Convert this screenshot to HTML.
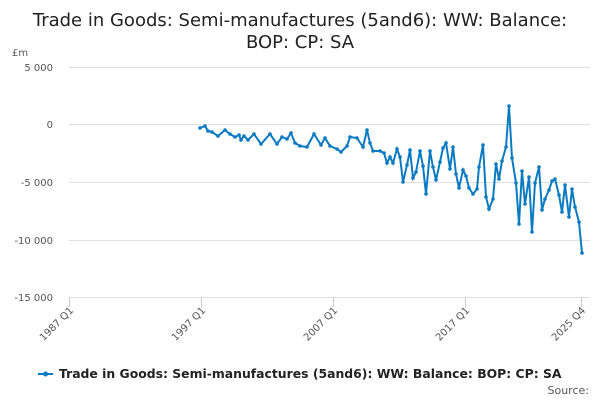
<!DOCTYPE html><html><head><style>body{margin:0;background:#fff}svg{font-family:"DejaVu Sans",sans-serif}</style></head><body>
<svg width="600" height="400" xmlns="http://www.w3.org/2000/svg">
<text x="300" y="26" font-size="18" text-anchor="middle" fill="#222">Trade in Goods: Semi-manufactures (5and6): WW: Balance:</text>
<text x="300" y="48" font-size="18" text-anchor="middle" fill="#222">BOP: CP: SA</text>
<text x="12" y="56" font-size="10" fill="#555">£m</text>
<g stroke="#e0e0e0" stroke-width="1">
<line x1="69" x2="590" y1="67.5" y2="67.5"/><line x1="69" x2="590" y1="124.5" y2="124.5"/><line x1="69" x2="590" y1="182.5" y2="182.5"/><line x1="69" x2="590" y1="240.5" y2="240.5"/><line x1="69" x2="590" y1="297.5" y2="297.5"/>
</g>
<g font-size="10" fill="#555" text-anchor="end">
<text x="53" y="71">5 000</text><text x="53" y="128">0</text><text x="53" y="186">-5 000</text><text x="53" y="244">-10 000</text><text x="53" y="301">-15 000</text>
</g>
<g stroke="#ccc"><line x1="69.5" x2="69.5" y1="297" y2="307"/><line x1="201.5" x2="201.5" y1="297" y2="307"/><line x1="333.5" x2="333.5" y1="297" y2="307"/><line x1="465.5" x2="465.5" y1="297" y2="307"/><line x1="581.5" x2="581.5" y1="297" y2="307"/></g>
<g font-size="10" fill="#555" text-anchor="end">
<text transform="translate(74,311) rotate(-45)">1987 Q1</text>
<text transform="translate(206,311) rotate(-45)">1997 Q1</text>
<text transform="translate(338,311) rotate(-45)">2007 Q1</text>
<text transform="translate(470,311) rotate(-45)">2017 Q1</text>
<text transform="translate(586,311) rotate(-45)">2025 Q4</text>
</g>
<g id="s" fill="#0a7bc1">
<polyline fill="none" stroke="#0a7bc1" stroke-width="2" points="200,128 205,126 208,131 212,132 218,136 225,130 230,134 235,137 239,135 241,140 244,136 248,140 254,134 261,144 270,134 277,144 282,137 287,139 291,133 295,143 300,146 307,147 314,134 321,145 325,138 330,146 337,149 341,152 347,146 350,137 357,138 363,147 367,130 370,143 373,151 380,151 384,153 387,163 390,157 393,163 397,149 400,157 403,182 407,165 410,150 413,178 416,172 420,151 423,166 426,194 430,151 433,167 436,180 440,162 443,148 446,143 450,169 453,147 456,174 459,188 463,170 466,176 469,188 473,194 477,189 479,167 483,145 486,197 489,209 493,199 496,164 499,179 502,161 506,147 509,106 512,158 516,183 519,224 522,171 525,204 529,177 532,232 535,183 539,167 542,210 545,199 549,190 552,181 555,179 559,195 562,212 565,185 569,217 572,189 575,207 579,222 582,253"/>
</g>
<line x1="38" x2="53" y1="374" y2="374" stroke="#0a7bc1" stroke-width="2"/><circle cx="45.5" cy="374" r="2.5" fill="#0a7bc1"/>
<text x="59" y="378" font-size="12.4" font-weight="bold" fill="#222">Trade in Goods: Semi-manufactures (5and6): WW: Balance: BOP: CP: SA</text>
<text x="589" y="394" font-size="11" text-anchor="end" fill="#555">Source:</text>
<script>
var p=document.querySelector('#s polyline').getAttribute('points').trim().split(/\s+/);var g=document.getElementById('s');
p.forEach(function(q){var a=q.split(',');var c=document.createElementNS('http://www.w3.org/2000/svg','circle');c.setAttribute('cx',a[0]);c.setAttribute('cy',a[1]);c.setAttribute('r','1.8');g.appendChild(c);});
</script>
</svg></body></html>
